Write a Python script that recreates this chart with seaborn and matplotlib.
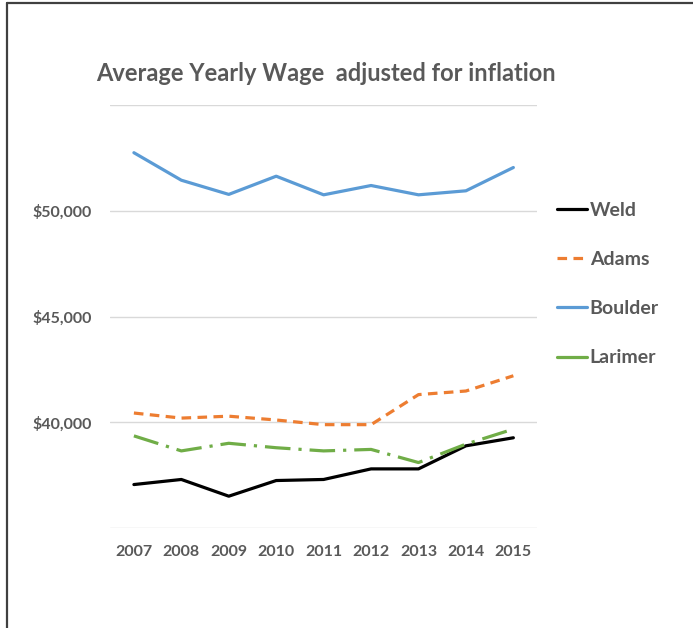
import matplotlib
matplotlib.use("Agg")
import matplotlib.pyplot as plt
import matplotlib.ticker as mticker
from matplotlib.lines import Line2D
import seaborn as sns
import pandas as pd

# data
years = ['2007', '2008', '2009', '2010', '2011', '2012', '2013', '2014', '2015']
weld = [37060, 37300, 36510, 37250, 37300, 37800, 37800, 38890, 39270]
adams = [40440, 40200, 40290, 40110, 39890, 39890, 41310, 41480, 42200]
boulder = [52740, 51440, 50770, 51630, 50750, 51190, 50750, 50940, 52040]
larimer = [39360, 38650, 39010, 38800, 38650, 38720, 38100, 38970, 39680]

series = {'Weld': weld, 'Adams': adams, 'Boulder': boulder, 'Larimer': larimer}
colors = {'Weld': '#000000', 'Adams': '#ED7D31', 'Boulder': '#5B9BD5', 'Larimer': '#70AD47'}
dashes = {'Weld': '', 'Adams': (3, 2), 'Boulder': '', 'Larimer': (8, 2.5, 1, 2.5)}

rows = []
for name, vals in series.items():
    for y, v in zip(years, vals):
        rows.append({'Year': y, 'Wage': v, 'County': name})
df = pd.DataFrame(rows)

sns.set_style('white')
plt.rcParams['font.family'] = ['Lato', 'DejaVu Sans']

fig = plt.figure(figsize=(6.93, 6.28), dpi=100)
ax = fig.add_axes([0.159, 0.159, 0.616, 0.674])

sns.lineplot(data=df, x='Year', y='Wage', hue='County', style='County',
             palette=colors, dashes=dashes, linewidth=2.3, ax=ax, legend=False,
             sort=False)

ax.set_xlim(-0.5, 8.5)
ax.set_ylim(35000, 55000)
ax.set_yticks([35000, 40000, 45000, 50000, 55000])
ax.yaxis.set_major_formatter(mticker.FuncFormatter(
    lambda v, p: f'${v:,.0f}' if 40000 <= v <= 50000 else ''))
ax.grid(axis='y', color='#d9d9d9', linewidth=1)
ax.set_axisbelow(True)
for s in ax.spines.values():
    s.set_visible(False)
ax.tick_params(axis='both', length=0, labelsize=11.5, labelcolor='#595959')
ax.tick_params(axis='y', pad=13)
ax.tick_params(axis='x', pad=12)
for lab in ax.get_xticklabels() + ax.get_yticklabels():
    lab.set_fontweight('bold')
ax.set_xlabel('')
ax.set_ylabel('')

fig.text(0.47, 0.883, 'Average Yearly Wage  adjusted for inflation', ha='center', va='center',
         fontsize=17, fontweight='bold', color='#595959')

handles = [Line2D([0], [0], color=colors[n], linewidth=2.3,
                  dashes=dashes[n] if dashes[n] else (None, None)) for n in ['Weld', 'Adams', 'Boulder']]
handles.append(Line2D([0], [0], color=colors['Larimer'], linewidth=2.3))
leg = fig.legend(handles, ['Weld', 'Adams', 'Boulder', 'Larimer'], loc='upper left',
                 bbox_to_anchor=(0.779, 0.706), frameon=False, handlelength=1.55,
                 handletextpad=0.12, labelspacing=1.65, prop={'size': 14, 'weight': 'bold'})
for t in leg.get_texts():
    t.set_color('#595959')

# outer frame (left and top edges)
fig.add_artist(Line2D([0.0101, 0.0101], [0, 0.995], color='#404040', linewidth=1.6,
                      transform=fig.transFigure))
fig.add_artist(Line2D([0.0101, 1.0], [0.995, 0.995], color='#404040', linewidth=1.6,
                      transform=fig.transFigure))

fig.savefig('out.png', dpi=100)
